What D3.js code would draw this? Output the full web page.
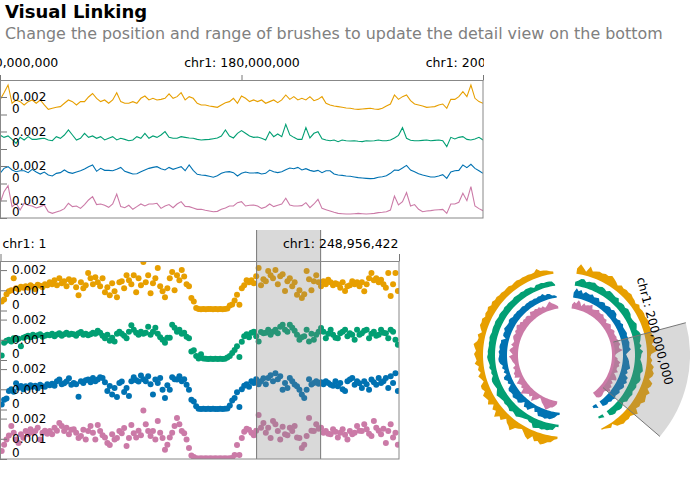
<!DOCTYPE html>
<html>
<head>
<meta charset="utf-8">
<script src="https://cdn.jsdelivr.net/npm/d3@7"></script>
<style>
    body { margin: 0; background: #fff; }
    svg { display: block; font-family: 'DejaVu Sans', sans-serif; }
</style>
</head>
<body>
<svg id="chart" width="690" height="480"></svg>
<script>
const chrName = 'chr1';
const chrLength = 248956422;
const binSize = 1500000;
const detailStart = 160000000;
const detailEnd = 200000000;

const trackColors = ['#E79F00', '#029F73', '#0072B2', '#CB7AA7'];

// whole chromosome, one value per 1.5 Mb bin (units of 1e-5)
const orangeDots = [
    45, 55, 80, 95, 100, 160, 110, 105, 118, 112,
    120, 112, 125, 118, 105, 128, 122, 115, 130, 125,
    140, 130, 150, 125, 160, 135, 145, 120, 155, 140,
    150, 115, 75, 140, 110, 125, 185, 160, 130, 165,
    140, 120, 160, 90, 115, 75, 135, 95, 65, 140,
    145, 110, 175, 150, 130, 175, 90, 160, 125, 240,
    140, 175, 85, 135, 160, 210, 120, 95, 65, 110,
    160, 190, 100, 175, 150, 200, 168, 130, 120, 62,
    45, 12, 8, 6, 7, 6, 8, 7, 6, 8,
    6, 7, 6, 8, 10, 25, 30, 50, 78, 28,
    110, 125, 150, 140, 150, 135, 170, 210, 125, 155,
    145, 195, 175, 160, 200, 130, 170, 180, 97, 145,
    160, 120, 140, 78, 100, 62, 80, 195, 155, 100,
    145, 175, 140, 120, 145, 130, 152, 140, 125, 135,
    130, 112, 140, 97, 120, 125, 145, 130, 140, 120,
    140, 95, 130, 160, 185, 150, 160, 140, 152, 130,
    112, 185, 72, 130, 185, 97
];
const greenDots = [
    22, 85, 95, 100, 92, 108, 102, 105, 68, 110,
    115, 120, 112, 125, 118, 122, 128, 115, 120, 125,
    122, 130, 118, 126, 132, 120, 128, 135, 125, 130,
    128, 120, 132, 138, 125, 130, 122, 128, 135, 130,
    145, 135, 120, 108, 125, 95, 110, 92, 130, 140,
    130, 120, 108, 140, 172, 150, 135, 125, 140, 130,
    135, 165, 125, 140, 160, 130, 112, 100, 85, 110,
    110, 175, 160, 140, 150, 130, 135, 115, 108, 42,
    48, 20, 8, 28, 7, 6, 5, 6, 5, 6,
    5, 6, 5, 6, 12, 20, 35, 50, 68, 15,
    90, 118, 128, 112, 135, 140, 118, 92, 138, 132,
    135, 150, 125, 140, 150, 132, 165, 175, 150, 140,
    175, 160, 145, 125, 100, 112, 118, 150, 92, 130,
    100, 125, 140, 158, 140, 108, 130, 150, 125, 110,
    108, 133, 140, 150, 118, 133, 125, 100, 150, 125,
    133, 145, 150, 108, 130, 140, 120, 125, 150, 135,
    133, 108, 150, 140, 100, 75
];
const blueDots = [
    25, 48, 55, 92, 100, 88, 130, 108, 116, 100,
    115, 108, 120, 112, 118, 105, 122, 115, 112, 125,
    120, 128, 118, 140, 148, 125, 130, 138, 155, 122,
    131, 125, 63, 140, 131, 145, 148, 135, 156, 140,
    148, 160, 156, 135, 92, 116, 74, 106, 62, 131,
    138, 87, 106, 67, 140, 160, 145, 138, 168, 150,
    140, 165, 125, 74, 148, 131, 156, 98, 57, 120,
    98, 160, 150, 148, 165, 140, 150, 123, 98, 48,
    40, 16, 4, 3, 4, 3, 4, 3, 4, 3,
    3, 4, 3, 4, 5, 20, 45, 57, 85, 12,
    100, 118, 125, 112, 140, 131, 150, 125, 140, 155,
    125, 156, 170, 140, 180, 150, 165, 98, 131, 106,
    156, 140, 124, 115, 98, 74, 57, 98, 150, 124,
    131, 140, 128, 135, 125, 140, 131, 123, 118, 140,
    115, 131, 100, 92, 140, 148, 156, 123, 140, 130,
    106, 140, 125, 98, 148, 135, 123, 156, 131, 140,
    156, 106, 165, 131, 180, 92
];
const pinkDots = [
    40, 71, 96, 116, 163, 130, 96, 79, 122, 105,
    139, 122, 147, 130, 139, 155, 96, 130, 140, 125,
    139, 122, 155, 140, 178, 163, 139, 155, 122, 145,
    147, 130, 104, 114, 145, 96, 139, 163, 130, 96,
    168, 139, 118, 106, 79, 69, 122, 96, 104, 139,
    127, 153, 64, 104, 168, 127, 106, 140, 118, 240,
    172, 139, 114, 139, 96, 188, 130, 104, 46, 71,
    106, 130, 163, 203, 172, 139, 127, 96, 54, 17,
    10, 4, 3, 4, 3, 4, 3, 4, 3, 4,
    3, 4, 3, 4, 3, 4, 5, 20, 69, 20,
    104, 135, 150, 145, 130, 118, 140, 218, 155, 178,
    130, 155, 104, 188, 172, 139, 96, 160, 122, 118,
    155, 139, 163, 106, 104, 55, 71, 114, 203, 140,
    139, 172, 150, 155, 130, 139, 125, 122, 147, 135,
    106, 130, 147, 120, 96, 139, 122, 130, 163, 140,
    139, 172, 147, 125, 114, 188, 155, 140, 122, 150,
    79, 139, 172, 106, 130, 71
];

// 160 Mb - 200 Mb, 121 evenly spaced samples (units of 1e-5)
const orangeLine = [
    166, 249, 337, 128, 166, 147, 109, 147, 166, 128,
    166, 109, 59, 71, 82, 90, 128, 166, 147, 109,
    147, 147, 200, 240, 185, 147, 166, 128, 166, 249,
    147, 128, 128, 147, 128, 185, 211, 166, 185, 166,
    173, 185, 235, 185, 204, 249, 166, 204, 185, 128,
    109, 109, 98, 90, 82, 109, 135, 147, 185, 128,
    211, 185, 147, 166, 147, 166, 128, 147, 166, 135,
    166, 223, 173, 204, 166, 185, 166, 204, 158, 173,
    204, 128, 109, 98, 90, 82, 75, 71, 63, 59,
    63, 67, 71, 63, 59, 71, 98, 120, 223, 173,
    204, 223, 158, 120, 109, 98, 82, 86, 90, 109,
    120, 71, 173, 173, 204, 261, 204, 337, 185, 147,
    128
];
const greenLine = [
    160, 133, 149, 110, 65, 133, 103, 141, 110, 110,
    118, 122, 103, 95, 141, 122, 160, 217, 160, 103,
    122, 179, 133, 149, 122, 141, 103, 122, 141, 103,
    122, 110, 95, 103, 141, 122, 179, 122, 149, 133,
    160, 198, 133, 122, 122, 141, 133, 126, 122, 110,
    103, 107, 110, 118, 126, 149, 217, 149, 126, 179,
    210, 179, 149, 133, 137, 122, 103, 198, 141, 171,
    141, 282, 160, 133, 110, 110, 244, 126, 179, 198,
    118, 103, 95, 103, 84, 103, 95, 91, 95, 88,
    84, 95, 91, 95, 103, 95, 95, 103, 126, 156,
    244, 122, 99, 95, 95, 99, 103, 95, 99, 103,
    95, 27, 133, 114, 133, 141, 110, 103, 114, 133,
    103
];
const blueLine = [
    116, 173, 192, 154, 135, 146, 146, 124, 162, 131,
    108, 131, 97, 86, 116, 124, 154, 127, 116, 131,
    146, 165, 192, 211, 139, 173, 150, 150, 146, 162,
    184, 139, 124, 108, 112, 135, 154, 173, 184, 192,
    169, 154, 184, 162, 177, 192, 146, 211, 150, 105,
    97, 93, 82, 71, 89, 116, 131, 135, 124, 86,
    116, 131, 120, 120, 124, 108, 116, 154, 135, 124,
    135, 158, 177, 169, 184, 154, 169, 150, 139, 150,
    124, 146, 146, 108, 97, 93, 86, 82, 74, 67,
    63, 59, 56, 59, 71, 78, 89, 116, 154, 150,
    177, 207, 154, 135, 112, 97, 86, 74, 74, 86,
    101, 59, 131, 146, 150, 211, 181, 219, 173, 146,
    116
];
const pinkLine = [
    168, 301, 370, 130, 168, 91, 168, 145, 137, 114,
    130, 149, 72, 53, 68, 84, 107, 168, 130, 137,
    110, 153, 206, 244, 153, 160, 145, 122, 160, 274,
    130, 118, 145, 99, 130, 160, 137, 160, 160, 168,
    110, 137, 153, 118, 160, 187, 133, 130, 114, 99,
    99, 88, 80, 72, 76, 99, 114, 137, 137, 175,
    187, 137, 145, 149, 137, 110, 126, 160, 130, 145,
    160, 225, 149, 137, 137, 141, 175, 118, 160, 213,
    110, 95, 80, 65, 53, 49, 46, 46, 49, 53,
    49, 46, 49, 53, 61, 65, 72, 91, 251, 149,
    187, 290, 137, 153, 99, 72, 80, 84, 91, 95,
    99, 53, 160, 160, 179, 282, 198, 358, 137, 107,
    84
];

const detailTicks = [160000000, 180000000, 200000000];
const overviewTicks = [1, 248956422];
const detailYTicks = [0, 0.002];
const overviewYTicks = [0, 0.001, 0.002];

const fontFamily = "'DejaVu Sans', sans-serif";
const genomicLabel = d => chrName + ': ' + d3.format(',')(d);
const valueLabel = d => d === 0 ? '0' : d3.format('.3f')(d);

function initChart() {
    const svg = d3.select('#chart');

    const wholeTracks = [orangeDots, greenDots, blueDots, pinkDots].map((values, i) => ({
        color: trackColors[i],
        data: values.map((v, j) => ({ pos: (j + 0.5) * binSize, value: v / 1e5 }))
    }));
    const detailTracks = [orangeLine, greenLine, blueLine, pinkLine].map((values, i) => ({
        color: trackColors[i],
        data: values.map((v, j) => ({
            pos: detailStart + j * (detailEnd - detailStart) / (values.length - 1),
            value: v / 1e5
        }))
    }));

    drawHeader(svg);
    drawDetailView(svg, detailTracks);
    drawOverview(svg, wholeTracks);
    drawCircularView(svg, wholeTracks);
}

function drawHeader(svg) {
    svg.append('text')
        .attr('x', 5)
        .attr('y', 18)
        .attr('font-size', 18)
        .attr('font-weight', 'bold')
        .attr('fill', '#000')
        .text('Visual Linking');

    svg.append('text')
        .attr('x', 5)
        .attr('y', 39)
        .attr('font-size', 15.9)
        .attr('fill', 'gray')
        .text('Change the position and range of brushes to update the detail view on the bottom');
}

function styleAxis(axisGroup, fontSize) {
    axisGroup
        .attr('font-family', fontFamily)
        .attr('font-size', fontSize);
    axisGroup.selectAll('line').attr('stroke', '#777');
    axisGroup.selectAll('.domain').attr('stroke', '#888');
    axisGroup.selectAll('text').attr('fill', '#000');
}

function drawTrackAxis(g, y, ticks) {
    const yAxis = d3.axisRight(y)
        .tickValues(ticks)
        .tickSize(7)
        .tickPadding(5)
        .tickFormat(valueLabel);
    const axisGroup = g.append('g').call(yAxis);
    axisGroup.select('.domain').remove();
    styleAxis(axisGroup, 12);
    // bottom label sits above its tick
    axisGroup.selectAll('text')
        .filter(d => d === 0)
        .attr('y', -6);
}

function drawDetailView(svg, tracks) {
    const frame = { left: 0, top: 80, width: 483, height: 138 };
    const trackHeight = frame.height / tracks.length;

    const view = svg.append('g')
        .attr('transform', 'translate(' + frame.left + ', ' + frame.top + ')');

    view.append('clipPath').attr('id', 'detail-clip')
        .append('rect')
        .attr('width', frame.width)
        .attr('height', frame.height);
    view.append('clipPath').attr('id', 'detail-label-clip')
        .append('rect')
        .attr('y', -40)
        .attr('width', frame.width + 1)
        .attr('height', 41);

    const x = d3.scaleLinear()
        .domain([detailStart, detailEnd])
        .range([0, frame.width]);
    const y = d3.scaleLinear()
        .domain([0, 0.00394])
        .range([trackHeight, 0]);

    const line = d3.line()
        .x(d => x(d.pos))
        .y(d => y(d.value));

    tracks.forEach((track, i) => {
        const g = view.append('g')
            .attr('transform', 'translate(0, ' + (i * trackHeight) + ')');
        g.append('path')
            .datum(track.data)
            .attr('clip-path', 'url(#detail-clip)')
            .attr('d', line)
            .attr('fill', 'none')
            .attr('stroke', track.color)
            .attr('stroke-width', 1.1);
        drawTrackAxis(g, y, detailYTicks);
    });

    view.append('rect')
        .attr('x', 0.5)
        .attr('y', 0.5)
        .attr('width', frame.width - 0.5)
        .attr('height', frame.height - 0.5)
        .attr('fill', 'none')
        .attr('stroke', '#888');

    const xAxis = d3.axisTop(x)
        .tickValues(detailTicks)
        .tickSize(5)
        .tickSizeOuter(0)
        .tickPadding(8)
        .tickFormat(genomicLabel);
    const axisGroup = view.append('g')
        .attr('clip-path', 'url(#detail-label-clip)')
        .call(xAxis);
    styleAxis(axisGroup, 12.5);
}

function drawOverview(svg, tracks) {
    const frame = { left: 0, top: 261, width: 399, height: 198 };
    const trackHeight = frame.height / tracks.length;

    const view = svg.append('g')
        .attr('transform', 'translate(' + frame.left + ', ' + frame.top + ')');

    const x = d3.scaleLinear()
        .domain([1, chrLength])
        .range([0.5, frame.width]);
    const y = d3.scaleLinear()
        .domain([0, 0.00245])
        .range([trackHeight, 0]);

    const trackGroups = tracks.map((track, i) => {
        const g = view.append('g')
            .attr('transform', 'translate(0, ' + (i * trackHeight) + ')');
        g.append('clipPath').attr('id', 'overview-clip-' + i)
            .append('rect')
            .attr('y', -i * trackHeight)
            .attr('width', frame.width)
            .attr('height', frame.height);
        g.append('g')
            .attr('clip-path', 'url(#overview-clip-' + i + ')')
            .selectAll('circle')
            .data(track.data)
            .enter()
            .append('circle')
            .attr('cx', d => x(d.pos))
            .attr('cy', d => y(d.value))
            .attr('r', 3)
            .attr('fill', track.color);
        return g;
    });

    // brush linked to the detail view
    const brush = view.append('g');
    brush.append('rect')
        .attr('x', x(detailStart))
        .attr('y', -31)
        .attr('width', x(detailEnd) - x(detailStart))
        .attr('height', frame.height + 31)
        .attr('fill', 'gray')
        .attr('fill-opacity', 0.3);
    [detailStart, detailEnd].forEach(p => {
        brush.append('line')
            .attr('x1', x(p))
            .attr('x2', x(p))
            .attr('y1', -31)
            .attr('y2', frame.height)
            .attr('stroke', '#777')
            .attr('stroke-width', 1);
    });

    trackGroups.forEach(g => drawTrackAxis(g, y, overviewYTicks));

    view.append('rect')
        .attr('x', 0.5)
        .attr('y', 0.5)
        .attr('width', frame.width - 0.5)
        .attr('height', frame.height - 0.5)
        .attr('fill', 'none')
        .attr('stroke', '#888');

    const xAxis = d3.axisTop(x)
        .tickValues(overviewTicks)
        .tickSize(7)
        .tickSizeOuter(0)
        .tickPadding(6)
        .tickFormat(genomicLabel);
    const axisGroup = view.append('g').call(xAxis);
    styleAxis(axisGroup, 12.5);
    axisGroup.selectAll('text')
        .attr('text-anchor', (d, i) => i === 0 ? 'start' : 'end')
        .attr('x', (d, i) => i === 0 ? 1.5 : -1);
}

function drawCircularView(svg, tracks) {
    const center = { x: 565, y: 355 };
    const ringBase = [82, 70, 58, 47];
    const ringHeight = 12;

    const view = svg.append('g')
        .attr('transform', 'translate(' + center.x + ', ' + center.y + ')');

    const angle = d3.scaleLinear()
        .domain([0, chrLength])
        .range([353 * Math.PI / 180, 7 * Math.PI / 180]);
    const r = d3.scaleLinear()
        .domain([0, 0.0022])
        .range([0, ringHeight])
        .clamp(true);

    tracks.forEach((track, i) => {
        const area = d3.areaRadial()
            .defined(d => d.value > 0.0002)
            .angle(d => angle(d.pos))
            .innerRadius(ringBase[i])
            .outerRadius(d => ringBase[i] + r(d.value));
        view.append('path')
            .datum(track.data)
            .attr('d', area)
            .attr('fill', track.color);
    });

    const wedge = d3.arc()
        .innerRadius(50)
        .outerRadius(125)
        .startAngle(angle(detailEnd))
        .endAngle(angle(detailStart));
    view.append('path')
        .attr('d', wedge())
        .attr('fill', 'gray')
        .attr('fill-opacity', 0.3);
    [detailStart, detailEnd].forEach(p => {
        const a = angle(p);
        view.append('line')
            .attr('x1', 50 * Math.sin(a))
            .attr('y1', -50 * Math.cos(a))
            .attr('x2', 125 * Math.sin(a))
            .attr('y2', -125 * Math.cos(a))
            .attr('stroke', '#777')
            .attr('stroke-width', 1);
    });

    const labelAngle = angle(detailEnd) * 180 / Math.PI;
    view.append('text')
        .attr('transform', 'rotate(' + labelAngle + ') translate(0, -89)')
        .attr('text-anchor', 'middle')
        .attr('font-size', 12)
        .attr('fill', '#000')
        .text(genomicLabel(detailEnd));
}

initChart();
</script>
</body>
</html>
